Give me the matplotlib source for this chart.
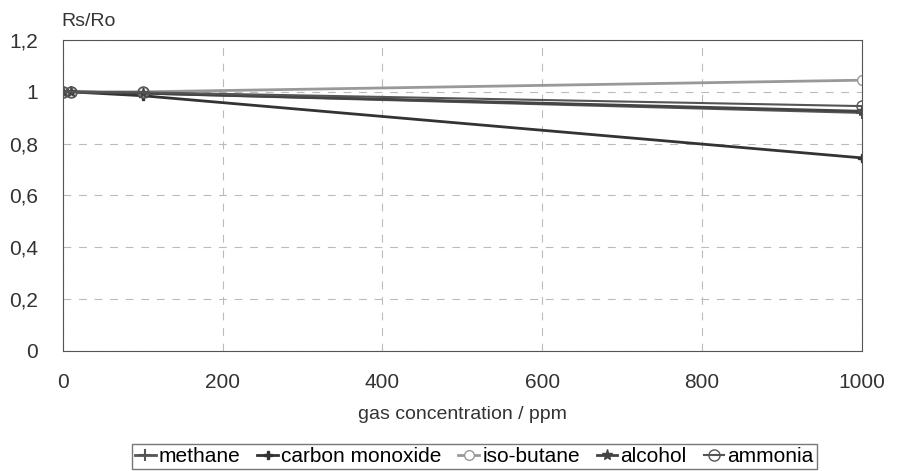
import matplotlib
matplotlib.use("Agg")
import matplotlib.pyplot as plt
from matplotlib.ticker import FuncFormatter

plt.rcParams['font.family'] = ['Liberation Sans', 'DejaVu Sans']

# gas concentration (ppm) and Rs/Ro readings
conc = [0, 10, 100, 1000]
methane = [1.0, 1.0, 0.995, 0.92]
carbon_monoxide = [1.0, 1.0, 0.985, 0.745]
iso_butane = [1.0, 1.0, 1.0, 1.045]
alcohol = [1.0, 1.0, 0.995, 0.925]
ammonia = [1.0, 1.0, 0.998, 0.945]

fig = plt.figure(figsize=(8.97, 4.71), dpi=100)
ax = fig.add_axes([0.070, 0.255, 0.891, 0.66])

ax.plot(conc, methane, color='#555555', lw=2, marker='+', ms=8, mew=1.5, label='methane')
ax.plot(conc, carbon_monoxide, color='#333333', lw=2, marker='P', ms=6, label='carbon monoxide')
ax.plot(conc, iso_butane, color='#999999', lw=2, marker='o', ms=7, mfc='white', label='iso-butane')
ax.plot(conc, alcohol, color='#444444', lw=2, marker='*', ms=8, label='alcohol')
ax.plot(conc, ammonia, color='#555555', lw=1.5, marker='o', ms=8, mfc='none', label='ammonia')

ax.set_xlim(0, 1000)
ax.set_ylim(0, 1.2)
ax.set_xticks([0, 200, 400, 600, 800, 1000])
ax.set_yticks([0, 0.2, 0.4, 0.6, 0.8, 1.0, 1.2])
ax.yaxis.set_major_formatter(FuncFormatter(lambda v, p: ('%g' % round(v, 1)).replace('.', ',')))
ax.grid(True, ls=(0, (7, 7)), color='#bbbbbb', lw=0.8)
ax.tick_params(axis='x', length=0, labelsize=15, colors='#333333', pad=16)
ax.tick_params(axis='y', length=0, labelsize=15, colors='#333333', pad=18)
for s in ax.spines.values():
    s.set_color('#555555')

ax.set_xlabel('gas concentration / ppm', fontsize=14, color='#333333', labelpad=10)
fig.text(0.068, 0.945, 'Rs/Ro', fontsize=14, color='#333333')

ax.legend(loc='upper center', bbox_to_anchor=(0.515, -0.265), ncol=5, fontsize=15,
          frameon=True, fancybox=False, edgecolor='#555555', handlelength=1.0,
          handletextpad=0.15, columnspacing=0.8, borderpad=0.15)

fig.savefig('out.png', dpi=100)
